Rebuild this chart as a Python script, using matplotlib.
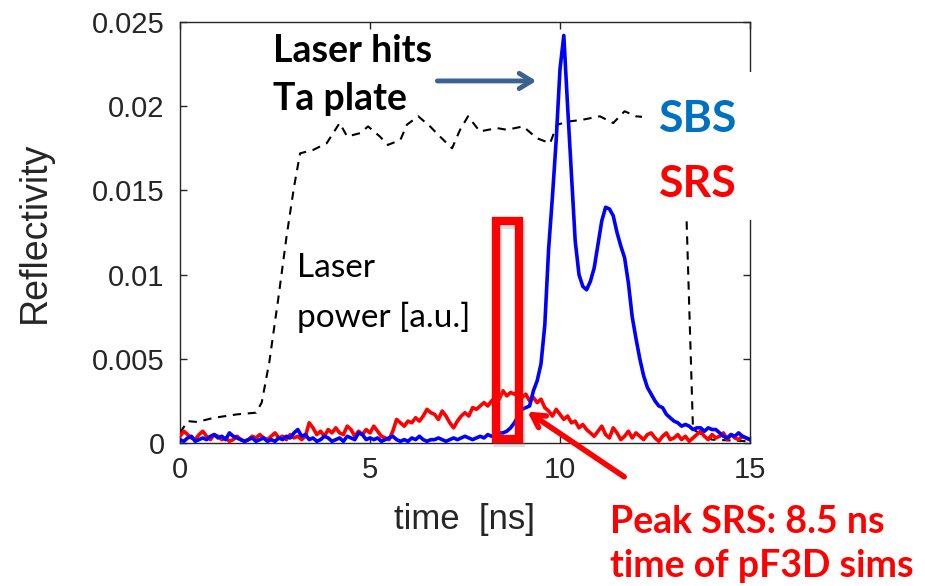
import numpy as np
import matplotlib
matplotlib.use("Agg")
import matplotlib.pyplot as plt
from matplotlib.patches import Rectangle
from matplotlib.transforms import offset_copy

# reflectivity traces sampled every 0.1 ns from 0 to 15 ns
sbs = [0.0002, 0.0001, 0.0003, 0.0004, 0.0001, 0.0002, 0.0003, 0.0002, 0.0004, 0.0005, 0.0003,
       0.0004, 0.0002, 0.0006, 0.0004, 0.0003, 0.0002, 0.0001, 0.0002, 0.0003, 0.0001,
       0.0002, 0.0003, 0.0001, 0.0002, 0.0001, 0.0003, 0.0002, 0.0004, 0.0003, 0.0006,
       0.0008, 0.0004, 0.0005, 0.0002, 0.0003, 0.0001, 0.0002, 0.0004, 0.0003, 0.0001,
       0.0002, 0.0003, 0.0001, 0.0004, 0.0003, 0.0002, 0.0006, 0.0005, 0.0002, 0.0003,
       0.0002, 0.0003, 0.0001, 0.0002, 0.0003, 0.0004, 0.0002, 0.0001, 0.0002, 0.0001,
       0.0003, 0.0002, 0.0004, 0.0002, 0.0001, 0.0002, 0.0002, 0.0003, 0.0002, 0.0001,
       0.0002, 0.0003, 0.0002, 0.0003, 0.0004, 0.0003, 0.0002, 0.0003, 0.0004, 0.0003,
       0.0005, 0.0004, 0.0005, 0.0006, 0.0006, 0.0007, 0.0009, 0.0012, 0.0016, 0.0020,
       0.0021, 0.0022, 0.0031, 0.0037, 0.0047, 0.0070, 0.0115, 0.0146, 0.0180, 0.0222,
       0.0242, 0.0200, 0.0160, 0.0120, 0.0100, 0.0093, 0.0091, 0.0096, 0.0104, 0.0118,
       0.0132, 0.0140, 0.0139, 0.0135, 0.0125, 0.0117, 0.0110, 0.0095, 0.0075, 0.0062,
       0.0050, 0.0040, 0.0033, 0.0029, 0.0025, 0.0022, 0.0021, 0.0017, 0.0015, 0.0013,
       0.0012, 0.0010, 0.0011, 0.0010, 0.0008, 0.0009, 0.0009, 0.0007, 0.0009, 0.0008,
       0.0008, 0.0006, 0.0004, 0.0003, 0.0005, 0.0004, 0.0006, 0.0004, 0.0003, 0.0002]

srs = [0.0004, 0.0007, 0.0005, 0.0003, 0.0002, 0.0005, 0.0007, 0.0004, 0.0002, 0.0005, 0.0004,
       0.0002, 0.0003, 0.0001, 0.0002, 0.0004, 0.0002, 0.0001, 0.0002, 0.0004, 0.0003,
       0.0005, 0.0003, 0.0002, 0.0004, 0.0006, 0.0003, 0.0004, 0.0002, 0.0005, 0.0003,
       0.0004, 0.0002, 0.0004, 0.0012, 0.0009, 0.0005, 0.0007, 0.0004, 0.0008, 0.0006,
       0.0009, 0.0006, 0.0005, 0.0010, 0.0008, 0.0004, 0.0007, 0.0005, 0.0008, 0.0006,
       0.0010, 0.0007, 0.0004, 0.0003, 0.0002, 0.0007, 0.0014, 0.0012, 0.0010, 0.0013,
       0.0012, 0.0015, 0.0013, 0.0016, 0.0020, 0.0018, 0.0017, 0.0014, 0.0019, 0.0016,
       0.0012, 0.0009, 0.0013, 0.0016, 0.0018, 0.0016, 0.0021, 0.0020, 0.0022, 0.0024,
       0.0022, 0.0025, 0.0027, 0.0026, 0.0031, 0.0028, 0.0030, 0.0029, 0.0031, 0.0027,
       0.0029, 0.0025, 0.0027, 0.0024, 0.0026, 0.0021, 0.0019, 0.0016, 0.0020, 0.0017,
       0.0014, 0.0016, 0.0012, 0.0013, 0.0009, 0.0011, 0.0008, 0.0006, 0.0004, 0.0007,
       0.0010, 0.0005, 0.0003, 0.0009, 0.0006, 0.0002, 0.0004, 0.0007, 0.0003, 0.0006,
       0.0004, 0.0002, 0.0005, 0.0006, 0.0003, 0.0001, 0.0004, 0.0006, 0.0002, 0.0003,
       0.0005, 0.0002, 0.0004, 0.0001, 0.0003, 0.0005, 0.0007, 0.0004, 0.0002, 0.0005,
       0.0003, 0.0004, 0.0006, 0.0002, 0.0005, 0.0003, 0.0002, 0.0004, 0.0003, 0.0002]

# laser power in arbitrary units, scaled onto the reflectivity axis
laser_t = [0, 0.2, 0.45, 0.9, 1.5, 2.0, 2.15, 2.35, 2.6, 2.8, 3.0, 3.16, 3.5, 3.86,
           4.2, 4.4, 4.74, 4.95, 5.26, 5.47, 5.8, 5.97, 6.27, 6.58, 6.84, 7.16, 7.37,
           7.58, 7.89, 8.34, 8.6, 9.03, 9.39, 9.74, 9.92, 10.26, 10.6, 11.05, 11.4,
           11.7, 12.0, 12.5, 13.0, 13.25, 13.5, 14.0, 15.0]
laser_p = [0.0006, 0.0013, 0.00125, 0.0015, 0.0017, 0.0018, 0.0024, 0.0048, 0.0088,
           0.0122, 0.0152, 0.0172, 0.0174, 0.0178, 0.0190, 0.0182, 0.0184, 0.0188,
           0.0182, 0.0177, 0.0180, 0.0189, 0.0194, 0.0188, 0.0182, 0.0175, 0.0186,
           0.0194, 0.0185, 0.0187, 0.0186, 0.0188, 0.0181, 0.0178, 0.0189, 0.0191,
           0.0192, 0.0194, 0.0190, 0.0197, 0.0194, 0.0193, 0.0192, 0.0192, 0.0008,
           0.0002, 0.0001]

xticks = [0, 5, 10, 15]
yticks = [0, 0.005, 0.01, 0.015, 0.02, 0.025]
ytick_labels = ["0", "0.005", "0.01", "0.015", "0.02", "0.025"]

peak_srs = 8.5  # ns, time used for the pF3D runs

W, H = 925, 586
fig = plt.figure(figsize=(W / 100, H / 100), dpi=100)


def fx(x):
    return x / W


def fy(y):
    return 1 - y / H


ax = fig.add_axes([fx(180), fy(443), (750 - 180) / W, (443 - 22) / H])

t = np.linspace(0, 15, len(sbs))
ax.plot(laser_t, laser_p, color="black", lw=1.5, dashes=(4, 3.2), zorder=2)
ax.plot(t, srs, color="#ff0000", lw=2.6, zorder=3)
ax.plot(t, sbs, color="#0000ff", lw=2.6, zorder=4)

ax.set_xlim(0, 15)
ax.set_ylim(0, 0.025)
ax.set_xticks(xticks)
ax.set_yticks(yticks)
ax.set_yticklabels(ytick_labels)

axis_gray = "#262626"
for s in ax.spines.values():
    s.set_color(axis_gray)
    s.set_linewidth(1.0)
ax.tick_params(direction="in", length=5, width=1, top=True, right=True,
               colors=axis_gray, labelsize=21)
ax.tick_params(axis="y", pad=11)
ax.tick_params(axis="x", pad=9)
for lab in ax.get_xticklabels() + ax.get_yticklabels():
    lab.set_fontfamily("Liberation Sans")
ax.set_xlabel("time  [ns]", fontsize=25, family="Liberation Sans", color=axis_gray, labelpad=14)
ax.set_ylabel("Reflectivity", fontsize=27, family="Liberation Sans", color=axis_gray, labelpad=28)

# highlight box around the SRS peak, with a faint drop shadow
box_x, box_w = peak_srs - 0.18, 0.6
box_y, box_h = 0.00024, 0.01294
shadow_tf = offset_copy(ax.transData, fig=fig, x=1.5, y=-3, units="points")
ax.add_patch(Rectangle((box_x, box_y), box_w, box_h, fill=False, edgecolor="#808080",
                       alpha=0.25, lw=6, zorder=5, clip_on=False, transform=shadow_tf))
ax.add_patch(Rectangle((box_x, box_y), box_w, box_h, fill=False, edgecolor="#ff0000",
                       lw=6, zorder=6, clip_on=False))

ax.annotate("", xy=(9.08, 0.00196), xytext=(11.75, -0.0021),
            arrowprops=dict(arrowstyle="->,head_length=0.9,head_width=0.5",
                            color="#ff0000", lw=4), annotation_clip=False, zorder=7)
ax.annotate("", xy=(9.45, 0.0215), xytext=(6.7, 0.0215),
            arrowprops=dict(arrowstyle="->,head_length=0.9,head_width=0.55",
                            color="#3a6391", lw=3.5), annotation_clip=False, zorder=7)

# white label panel on the right
fig.add_artist(Rectangle((fx(642), fy(220)), (W - 642) / W, (220 - 72) / H,
                         transform=fig.transFigure, facecolor="white",
                         edgecolor="none", zorder=5))

bold = dict(family="Lato", fontweight="bold")
fig.text(fx(273), fy(62), "Laser hits", fontsize=27, color="black", va="baseline", **bold)
fig.text(fx(273), fy(110), "Ta plate", fontsize=27, color="black", va="baseline", **bold)
fig.text(fx(659), fy(132), "SBS", fontsize=32, color="#0070c0", va="baseline", zorder=6, **bold)
fig.text(fx(659), fy(197), "SRS", fontsize=32, color="#ff0000", va="baseline", zorder=6, **bold)
fig.text(fx(297), fy(277), "Laser", fontsize=24, family="Lato", color="black", va="baseline")
fig.text(fx(297), fy(327), "power [a.u.]", fontsize=24, family="Lato", color="black", va="baseline")
fig.text(fx(610), fy(533), "Peak SRS: 8.5 ns", fontsize=27, color="#ff0000", va="baseline", **bold)
fig.text(fx(610), fy(577), "time of pF3D sims", fontsize=27, color="#ff0000", va="baseline", **bold)

fig.savefig("out.png", dpi=100, facecolor="white")
